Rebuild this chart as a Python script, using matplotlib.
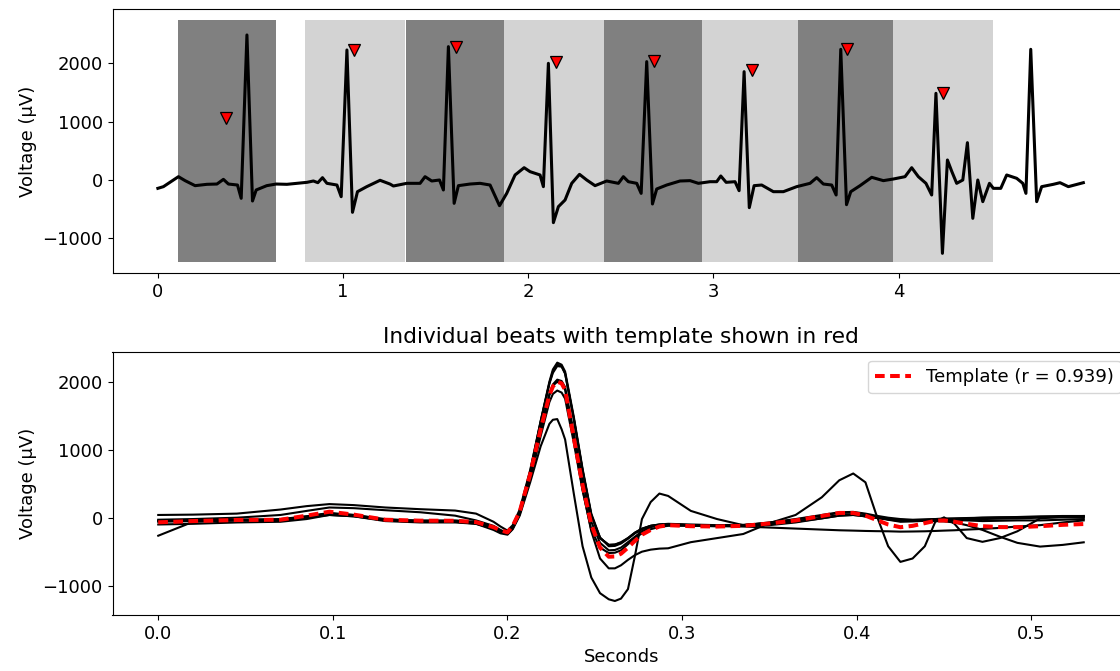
import numpy as np
import matplotlib
matplotlib.use("Agg")
import matplotlib.pyplot as plt

plt.rcParams['font.family'] = ['DejaVu Sans']
plt.rcParams['font.size'] = 13

# ---------------- top panel: raw ECG (seconds, microvolts) ----------------
ecg_t = [0.0, 0.030, 0.111, 0.147, 0.201, 0.265, 0.319, 0.354, 0.381, 0.430, 0.450, 0.481, 0.511,
         0.531, 0.588, 0.639, 0.697, 0.751, 0.805, 0.840, 0.864, 0.889, 0.913, 0.967, 0.990, 1.021,
         1.051, 1.078, 1.128, 1.200, 1.254, 1.272, 1.344, 1.416, 1.443, 1.479, 1.521, 1.542, 1.569,
         1.600, 1.623, 1.686, 1.740, 1.794, 1.845, 1.884, 1.929, 1.978, 2.010, 2.064, 2.082, 2.109,
         2.136, 2.163, 2.199, 2.235, 2.277, 2.316, 2.361, 2.424, 2.487, 2.514, 2.541, 2.586, 2.610,
         2.640, 2.671, 2.694, 2.748, 2.820, 2.874, 2.919, 2.982, 3.018, 3.040, 3.069, 3.117, 3.139,
         3.166, 3.194, 3.220, 3.261, 3.324, 3.378, 3.450, 3.522, 3.558, 3.594, 3.639, 3.663, 3.688,
         3.719, 3.742, 3.792, 3.855, 3.918, 3.972, 4.035, 4.071, 4.107, 4.148, 4.179, 4.202, 4.237,
         4.264, 4.288, 4.314, 4.347, 4.372, 4.401, 4.428, 4.455, 4.491, 4.512, 4.552, 4.584, 4.638,
         4.671, 4.688, 4.714, 4.746, 4.773, 4.836, 4.872, 4.917, 4.998]
ecg_v = [-143, -114, 57, -11, -97, -74, -69, 11, -69, -86, -314, 2486, -360,
         -171, -97, -69, -74, -57, -40, -17, -46, 40, -57, -86, -286, 2229,
         -554, -200, -114, -5, -70, -103, -57, -57, 57, -17, 0, -171, 2286,
         -400, -97, -69, -57, -86, -440, -229, 86, 211, 143, 86, -114, 2000,
         -731, -457, -343, -57, 97, 0, -97, -17, -57, 57, -29, -57, -229,
         2029, -411, -154, -86, -17, -11, -57, -29, -29, 69, -40, -29, -183,
         1857, -474, -97, -86, -200, -200, -114, -57, 40, -69, -86, -257, 2240,
         -423, -200, -97, 46, -11, 17, 57, 211, 57, -57, -257, 1486, -1257,
         343, 143, -57, 0, 640, -657, 0, -371, -57, -143, -143, 86, 29,
         -57, -229, 2240, -371, -114, -74, -46, -114, -46]

peak_t = [0.369, 1.059, 1.609, 2.148, 2.680, 3.207, 3.722, 4.241]
peak_v = [1060, 2232, 2286, 2017, 2040, 1880, 2250, 1486]

win_start = [0.107, 0.793, 1.341, 1.871, 2.409, 2.938, 3.457, 3.971]
win_end = [0.639, 1.333, 1.871, 2.409, 2.938, 3.457, 3.971, 4.511]
win_color = ['gray', 'lightgray', 'gray', 'lightgray', 'gray', 'lightgray', 'gray', 'lightgray']
span_low, span_high = -1400, 2737
top_xticks = [0, 1, 2, 3, 4]

# ---------------- bottom panel: beats on a common time grid ----------------
beat_t = [0, 0.02, 0.045, 0.07, 0.085, 0.098, 0.112, 0.13, 0.15, 0.17, 0.182, 0.192,
          0.196, 0.2, 0.203, 0.207, 0.213, 0.219, 0.224, 0.226, 0.2285, 0.231, 0.233, 0.238,
          0.243, 0.248, 0.253, 0.258, 0.2615, 0.265, 0.269, 0.273, 0.277, 0.282, 0.287, 0.292,
          0.305, 0.32, 0.335, 0.35, 0.365, 0.38, 0.39, 0.398, 0.405, 0.411, 0.418, 0.425,
          0.432, 0.439, 0.445, 0.45, 0.456, 0.463, 0.472, 0.482, 0.492, 0.505, 0.518, 0.53]

beat_1 = [40, 45, 60, 120, 170, 200, 185, 150, 125, 105, 60, -60,
          -130, -190, -110, 120, 700, 1420, 1980, 2150, 2250, 2230, 2120, 1450,
          700, 40, -300, -400, -395, -360, -300, -220, -165, -120, -100, -90,
          -100, -110, -105, -80, -50, 0, 40, 50, 20, 0, -25, -40,
          -35, -25, -20, -15, -15, -10, 0, 5, 10, 20, 25, 25]
beat_2 = [-30, -20, 0, 40, 100, 150, 140, 110, 80, 30, -40, -120,
          -180, -230, -140, 90, 680, 1420, 2000, 2180, 2280, 2250, 2150, 1480,
          720, 60, -290, -420, -415, -380, -310, -230, -170, -120, -100, -95,
          -110, -120, -115, -90, -60, -10, 30, 40, 20, 0, -20, -30,
          -40, -45, -50, -55, -70, -110, -180, -280, -370, -425, -400, -362]
beat_3 = [-40, -35, -30, -20, 20, 60, 40, -20, -50, -55, -80, -160,
          -210, -240, -160, 60, 650, 1400, 1970, 2130, 2230, 2220, 2120, 1450,
          690, 30, -300, -400, -395, -370, -300, -220, -160, -120, -105, -100,
          -115, -125, -110, -75, -30, 30, 70, 75, 50, 15, -25, -50,
          -45, -35, -20, -15, -10, -5, 0, 5, 5, 10, 10, 10]
beat_4 = [-50, -40, -30, -30, 20, 70, 40, -30, -40, -40, -60, -140,
          -190, -220, -130, 90, 620, 1300, 1800, 1940, 2000, 1970, 1880, 1150,
          420, -200, -600, -745, -745, -700, -620, -550, -500, -470, -455, -450,
          -360, -300, -240, -80, 40, 300, 550, 650, 520, 60, -420, -650,
          -600, -420, -60, 5, -90, -300, -355, -300, -200, -10, 15, 25]
beat_5 = [-60, -50, -40, -35, 10, 60, 30, -40, -60, -60, -80, -150,
          -200, -230, -140, 80, 620, 1300, 1820, 1960, 2030, 2010, 1920, 1250,
          560, -60, -370, -480, -475, -440, -360, -280, -200, -140, -110, -100,
          -110, -120, -110, -70, -20, 40, 80, 85, 60, 30, 0, -20,
          -30, -30, -30, -30, -35, -40, -50, -45, -40, -40, -30, -20]
beat_6 = [-100, -90, -70, -60, -20, 40, 20, -50, -70, -70, -90, -160,
          -210, -240, -150, 50, 560, 1200, 1700, 1820, 1870, 1840, 1750, 1100,
          400, -180, -440, -520, -515, -480, -390, -300, -230, -170, -135, -120,
          -120, -125, -130, -145, -160, -175, -185, -190, -195, -198, -200, -205,
          -203, -200, -195, -190, -185, -175, -165, -150, -130, -110, -70, -40]
beat_7 = [-265, -60, -40, -40, 0, 40, 20, -40, -60, -60, -90, -180,
          -230, -250, -170, 30, 520, 1050, 1380, 1440, 1450, 1300, 1150, 350,
          -420, -880, -1110, -1200, -1225, -1190, -1050, -560, -20, 230, 355, 320,
          100, -20, -110, -110, -70, -10, 30, 40, 20, 0, -30, -60,
          -55, -45, -30, -25, -20, -20, -20, -15, -10, 0, 5, 5]
beats = [beat_1, beat_2, beat_3, beat_4, beat_5, beat_6, beat_7]

template_v = [-68, -50, -34, -30, 30, 88, 45, -30, -44, -45, -65, -140,
              -185, -215, -120, 90, 640, 1300, 1800, 1930, 2000, 1975, 1880, 1170,
              480, -100, -440, -574, -570, -530, -440, -340, -250, -180, -130, -110,
              -125, -130, -120, -85, -40, 25, 70, 70, 30, -30, -100, -140,
              -120, -80, -45, -40, -60, -90, -125, -138, -140, -125, -105, -93]
template_r = 0.939

# ---------------- figure ----------------
W, H = 1120, 671
fig = plt.figure(figsize=(W / 100, H / 100), dpi=100)

def frac(left_px, top_px, right_px, bottom_px):
    return [left_px / W, 1 - bottom_px / H, (right_px - left_px) / W, (bottom_px - top_px) / H]

ax1 = fig.add_axes(frac(112.5, 9, 1130, 273))
ax2 = fig.add_axes(frac(112.5, 351.7, 1130, 615))

for s, e, c in zip(win_start, win_end, win_color):
    ax1.fill_between([s, e], span_low, span_high, color=c, linewidth=0, zorder=1)
ax1.plot(ecg_t, ecg_v, color='k', lw=2.2, solid_joinstyle='round', zorder=3)
ax1.plot(peak_t, peak_v, linestyle='none', marker='v', markersize=8.5,
         markerfacecolor='red', markeredgecolor='k', markeredgewidth=0.9, zorder=4)
ax1.set_xlim(-0.245, 5.25)
ax1.set_ylim(-1594, 2931)
ax1.set_xticks(top_xticks)
ax1.set_yticks([-1000, 0, 1000, 2000])
ax1.set_ylabel('Voltage (µV)')

for b in beats:
    ax2.plot(beat_t, b, color='k', lw=1.5, solid_joinstyle='round', zorder=2)
ax2.plot(beat_t, template_v, color='red', lw=2.9, dashes=(2.4, 1.35), zorder=3,
         label='Template (r = %.3f)' % template_r)
ax2.set_xlim(-0.0262, 0.5565)
ax2.set_ylim(-1431, 2441)
ax2.set_yticks([-1000, 0, 1000, 2000])
ax2.set_ylabel('Voltage (µV)')
ax2.set_xlabel('Seconds')
ax2.set_title('Individual beats with template shown in red')
ax2.legend(loc='upper right')

fig.savefig('out.png', dpi=100)
